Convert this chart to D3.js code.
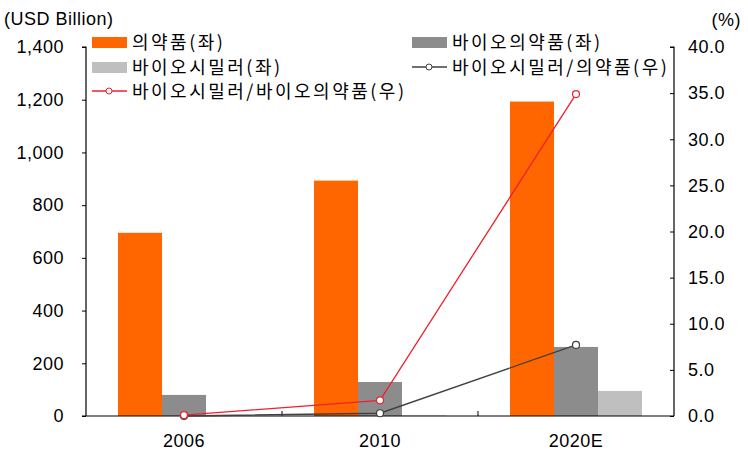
<!DOCTYPE html>
<html><head><meta charset="utf-8">
<script src="https://cdn.jsdelivr.net/npm/d3@7"></script>
<style>
body{margin:0;background:#fff;}
text{font-family:"Liberation Sans","Noto Sans CJK KR",Arial,sans-serif;fill:#000;}
.kr{font-family:"Noto Sans CJK KR","Liberation Sans",sans-serif;}
</style></head>
<body><svg id="c" width="748" height="464"></svg>
<script>
const categories = ["2006","2010","2020E"];
const pharma = [695, 893, 1193];
const bioPharma = [80, 129, 262];
const biosimilar = [1, 2, 95];
const simToPharma = [0.0, 0.3, 7.7];
const simToBio = [0.1, 1.7, 34.9];
const leftTicks = [0,200,400,600,800,1000,1200,1400];
const rightTicks = [0,5,10,15,20,25,30,35,40];

const svg = d3.select("#c");
const L = 86, R = 674, T = 47, B = 416;
const x = d3.scaleBand().domain(categories).range([L, R]);
const yL = d3.scaleLinear().domain([0,1400]).range([B,T]);
const yR = d3.scaleLinear().domain([0,40]).range([B,T]);
const barW = 44;
const series = [
  {vals: pharma, color:"#FF6600", off:-1.5},
  {vals: bioPharma, color:"#8C8C8C", off:-0.5},
  {vals: biosimilar, color:"#BFBFBF", off:0.5}
];
const cx = c => x(c) + x.bandwidth()/2;

series.forEach(s=>{
  svg.append("g").selectAll("rect").data(categories).join("rect")
    .attr("x", (c)=>cx(c)+s.off*barW)
    .attr("y", (c,i)=>yL(s.vals[i]))
    .attr("width", barW)
    .attr("height", (c,i)=>B-yL(s.vals[i]))
    .attr("fill", s.color);
});

const numStyle = sel => sel.style("font-size","18px").style("letter-spacing","0.5px");

// axes
const fmt = d3.format(",");
const gl = svg.append("g").attr("transform",`translate(${L},0)`)
  .call(d3.axisLeft(yL).tickValues(leftTicks).tickFormat(fmt).tickSize(4).tickPadding(18));
const gr = svg.append("g").attr("transform",`translate(${R},0)`)
  .call(d3.axisRight(yR).tickValues(rightTicks).tickFormat(d3.format(".1f")).tickSize(-4).tickPadding(14));
[gl,gr].forEach(g=>{
  g.select(".domain").attr("stroke","#000").attr("stroke-width",1.2);
  g.selectAll(".tick line").attr("stroke","#000");
  g.selectAll("text").attr("fill","#000").call(numStyle);
});
gl.select(".domain").attr("d",`M-4,${T}H0V${B}`);
gr.select(".domain").attr("d",`M-4,${T}H0V${B}`);
gl.selectAll(".tick line").attr("x2",-4);

// bottom axis
const gb = svg.append("g");
gb.append("line").attr("x1",L-4).attr("x2",R).attr("y1",B).attr("y2",B).attr("stroke","#000").attr("stroke-width",1.2);
gb.selectAll("line.t").data(categories.slice(1)).join("line").attr("class","t")
  .attr("x1",c=>x(c)).attr("x2",c=>x(c)).attr("y1",B).attr("y2",B-5).attr("stroke","#000");
gb.selectAll("text").data(categories).join("text")
  .attr("x",cx).attr("y",447).attr("text-anchor","middle").call(numStyle).text(d=>d);

// lines
const lineGen = d3.line().x((d,i)=>cx(categories[i])).y(d=>yR(d));
function drawLine(vals,color){
  svg.append("path").datum(vals).attr("d",lineGen).attr("fill","none").attr("stroke",color).attr("stroke-width",1.3);
  svg.append("g").selectAll("circle").data(vals).join("circle")
    .attr("cx",(d,i)=>cx(categories[i])).attr("cy",d=>yR(d)).attr("r",3.5)
    .attr("fill","#fff").attr("stroke",color).attr("stroke-width",1.2);
}
drawLine(simToPharma,"#404040");
drawLine(simToBio,"#F0202E");

// titles
svg.append("text").attr("x",4).attr("y",25).call(numStyle).text("(USD Billion)");
svg.append("text").attr("x",741).attr("y",26).attr("text-anchor","end").call(numStyle).text("(%)");

// legend
const leg = [
  {label:"의약품(좌)", type:"rect", color:"#FF6600", x:92, y:42},
  {label:"바이오의약품(좌)", type:"rect", color:"#8C8C8C", x:412, y:42},
  {label:"바이오시밀러(좌)", type:"rect", color:"#BFBFBF", x:92, y:67},
  {label:"바이오시밀러/의약품(우)", type:"line", color:"#404040", x:412, y:67},
  {label:"바이오시밀러/바이오의약품(우)", type:"line", color:"#F0202E", x:92, y:91}
];
const lg = svg.append("g").selectAll("g").data(leg).join("g").attr("transform",d=>`translate(${d.x},${d.y})`);
lg.filter(d=>d.type==="rect").append("rect").attr("x",0).attr("y",-5).attr("width",35).attr("height",11).attr("fill",d=>d.color);
lg.filter(d=>d.type==="line").append("line").attr("x1",0).attr("x2",35).attr("y1",0).attr("y2",0).attr("stroke",d=>d.color).attr("stroke-width",1.3);
lg.filter(d=>d.type==="line").append("circle").attr("cx",17).attr("cy",0).attr("r",3).attr("fill","#fff").attr("stroke",d=>d.color);
lg.append("text").attr("class","kr").attr("x",40).attr("y",7)
  .style("font-size","18px").style("letter-spacing","2.5px").text(d=>d.label);
</script></body></html>
